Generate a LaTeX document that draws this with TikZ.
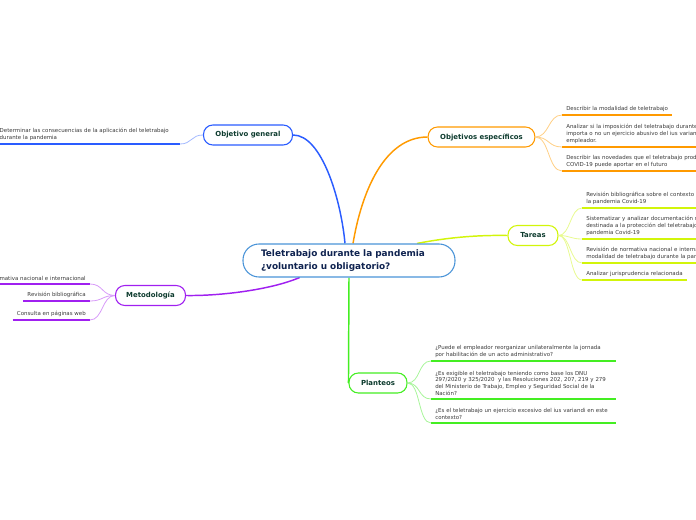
\documentclass[tikz,border=0pt]{standalone}
\usepackage{fontspec}
\setmainfont{DejaVu Sans}
\usetikzlibrary{backgrounds}
\definecolor{blueC}{HTML}{2A5CFF}
\definecolor{blueL}{HTML}{A4BAFF}
\definecolor{orangeC}{HTML}{FF9A00}
\definecolor{orangeL}{HTML}{FFCF85}
\definecolor{yellowC}{HTML}{D2F50A}
\definecolor{yellowL}{HTML}{E8FA90}
\definecolor{purpleC}{HTML}{A020F0}
\definecolor{purpleL}{HTML}{D79AF8}
\definecolor{greenC}{HTML}{44EE22}
\definecolor{greenL}{HTML}{A8F59A}
\definecolor{centralB}{HTML}{4A94D8}
\definecolor{centralT}{HTML}{0F2350}
\definecolor{labelT}{HTML}{0D3B2E}
\definecolor{leafT}{HTML}{3A3A3A}
\begin{document}
\begin{tikzpicture}[x=0.75pt,y=-0.75pt,
  topic/.style={draw=#1, line width=0.8pt, fill=white, rounded corners=7pt,
    minimum height=15pt, font=\fontsize{5.2}{6}\selectfont\bfseries, text=labelT, inner sep=0pt},
  central/.style={draw=centralB, line width=0.8pt, fill=white, rounded corners=12pt,
    minimum width=159pt, minimum height=24.75pt, inner xsep=13.5pt, text width=132pt, align=left,
    font=\fontsize{6.7}{9.4}\selectfont\bfseries, text=centralT},
  leaf/.style={font=\fontsize{4.1}{5}\selectfont, text=leafT, align=left, inner xsep=3pt, inner ysep=2.5pt},
  wleaf/.style={leaf, text width=132pt},
  uline/.style={line width=1.5pt, draw=#1},
  conn/.style={line width=1.1pt, draw=#1},
  sub/.style={line width=0.6pt, draw=#1}]
\useasboundingbox (0,0) rectangle (696,520);

% ---------- topic nodes ----------
\node[central] (c) at (349,260.5) {Teletrabajo durante la pandemia\\¿voluntario u obligatorio?};
\node[topic=blueC, minimum width=66.75pt] (og) at (248,135) {Objetivo general};
\node[topic=orangeC, minimum width=80pt] (oe) at (481.5,137) {Objetivos específicos};
\node[topic=yellowC, minimum width=37.5pt] (ta) at (533,235.5) {Tareas};
\node[topic=purpleC, minimum width=52.5pt] (me) at (150.5,295.5) {Metodología};
\node[topic=greenC, minimum width=43.5pt] (pl) at (378,383) {Planteos};

% ---------- main connectors ----------
\begin{scope}[on background layer]
\draw[conn=blueC] ([xshift=-3pt]c.north) .. controls (341,200) and (322,135) .. (og.east);
\draw[conn=orangeC] ([xshift=3pt]c.north) .. controls (362,190) and (385,137) .. (oe.west);
\draw[conn=yellowC] ([xshift=51pt]c.north) .. controls (450,237) and (480,235) .. (ta.west);
\draw[conn=purpleC] ([xshift=-37pt]c.south) .. controls (270,290) and (220,296) .. (me.east);
\draw[conn=greenC] (c.south) -- (pl.west);
\end{scope}

% ---------- Objetivo general ----------
\node[wleaf, anchor=south east] (g1) at (180,144) {Determinar las consecuencias de la aplicación del teletrabajo\\durante la pandemia};
\draw[uline=blueC] (g1.south west) -- (g1.south east);
\draw[sub=blueL] (og.west) .. controls +(-12,0) and +(12,0) .. (g1.south east);

% ---------- Objetivos especificos ----------
\node[leaf, anchor=south west] (o1) at (562,115) {Describir la modalidad de teletrabajo};
\node[wleaf, anchor=south west] (o2) at (562,147) {Analizar si la imposición del teletrabajo durante la\\importa o no un ejercicio abusivo del ius variandi\\empleador.};
\node[wleaf, anchor=south west] (o3) at (562,171) {Describir las novedades que el teletrabajo producto\\COVID-19 puede aportar en el futuro};
\foreach \n in {o1,o2,o3}{
  \draw[uline=orangeC] (\n.south west) -- (\n.south east);
  \draw[sub=orangeL] (oe.east) .. controls +(14,0) and +(-14,0) .. (\n.south west);
}

% ---------- Tareas ----------
\node[wleaf, anchor=south west] (t1) at (582,208) {Revisión bibliográfica sobre el contexto de\\la pandemia Covid-19};
\node[wleaf, anchor=south west] (t2) at (582,239) {Sistematizar y analizar documentación normativa\\destinada a la protección del teletrabajo en\\pandemia Covid-19};
\node[wleaf, anchor=south west] (t3) at (582,263) {Revisión de normativa nacional e internacional\\modalidad de teletrabajo durante la pandemia};
\node[leaf, anchor=south west] (t4) at (582,280) {Analizar jurisprudencia relacionada};
\foreach \n in {t1,t2,t3,t4}{
  \draw[uline=yellowC] (\n.south west) -- (\n.south east);
  \draw[sub=yellowL] (ta.east) .. controls +(12,0) and +(-12,0) .. (\n.south west);
}

% ---------- Metodologia ----------
\node[leaf, anchor=south east] (m1) at (90,284) {Normativa nacional e internacional};
\node[leaf, anchor=south east] (m2) at (90,301) {Revisión bibliográfica};
\node[leaf, anchor=south east] (m3) at (90,320) {Consulta en páginas web};
\foreach \n in {m1,m2,m3}{
  \draw[uline=purpleC] (\n.south west) -- (\n.south east);
  \draw[sub=purpleL] (me.west) .. controls +(-13,0) and +(13,0) .. (\n.south east);
}

% ---------- Planteos ----------
\node[wleaf, anchor=south west] (p1) at (431,361) {¿Puede el empleador reorganizar unilateralmente la jornada\\por habilitación de un acto administrativo?};
\node[wleaf, anchor=south west] (p2) at (431,399) {¿Es exigible el teletrabajo teniendo como base los DNU\\297/2020 y 325/2020~ y las Resoluciones 202, 207, 219 y 279\\del Ministerio de Trabajo, Empleo y Seguridad Social de la\\Nación?};
\node[wleaf, anchor=south west] (p3) at (431,423) {¿Es el teletrabajo un ejercicio excesivo del ius variandi en este\\contexto?};
\foreach \n in {p1,p2,p3}{
  \draw[uline=greenC] (\n.south west) -- (\n.south east);
  \draw[sub=greenL] (pl.east) .. controls +(13,0) and +(-13,0) .. (\n.south west);
}
\end{tikzpicture}
\end{document}
